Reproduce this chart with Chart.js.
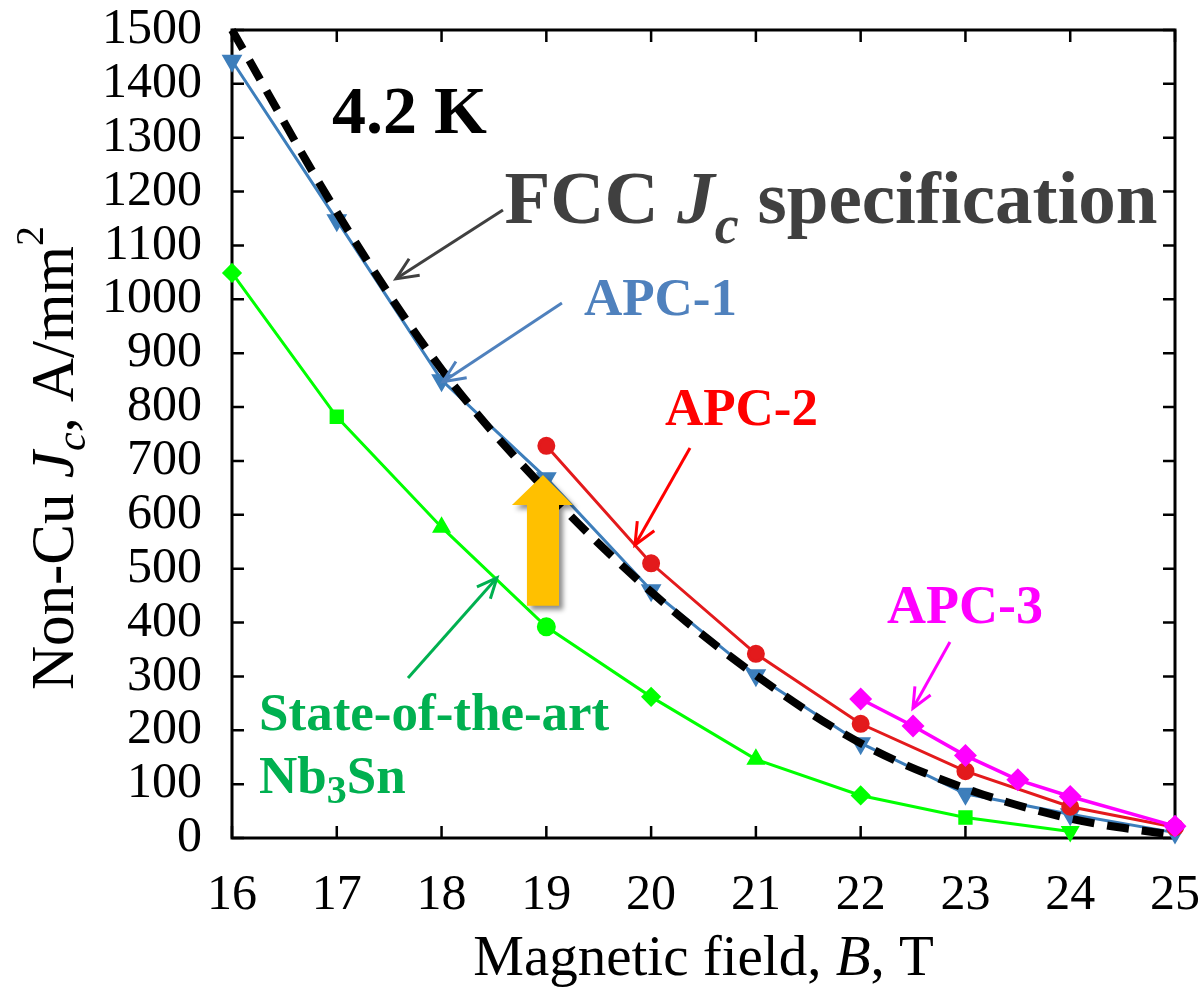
<!DOCTYPE html>
<html><head><meta charset="utf-8">
<script src="https://cdn.jsdelivr.net/npm/chart.js@4"></script>
<style>html,body{margin:0;padding:0;background:#fff}#wrap{width:1202px;height:987px}</style>
</head><body><div id="wrap"><canvas id="c" width="1202" height="987"></canvas></div>
<script>
// ---- data ----
const fieldB   = [16,17,18,19,20,21,22,23,24,25];
const fccSpec  = [1500,1162,870,645,457,302,176,92,36,5];
const apc1B    = [16,17,18,19,20,21,22,23,24,25];
const apc1Jc   = [1443,1147,850,668,460,302,176,82,44,10];
const apc2B    = [19,20,21,22,23,24,25];
const apc2Jc   = [728,510,342,212,124,58,20];
const apc3B    = [22,22.5,23,23.5,24,25];
const apc3Jc   = [258,208,153,108,77,22];
const sotaB    = [16,17,18,19,20,21,22,23,24];
const sotaJc   = [1049,782,577,392,262,146,79,38,12];
const sotaMarkers = ['rectRot','rect','triangle','circle','rectRot','triangle','rectRot','rect','triangle'];
const sotaRotation = [0,0,0,0,0,0,0,0,180];
const xTickValues = [16,17,18,19,20,21,22,23,24,25];
const yTickValues = [0,100,200,300,400,500,600,700,800,900,1000,1100,1200,1300,1400,1500];

const pts = (xs, ys) => xs.map((x, i) => ({x, y: ys[i]}));
const SERIF = "'Liberation Serif', 'Times New Roman', serif";
Chart.defaults.font.family = SERIF;

function drawRich(ctx, parts, x, y) {
  let cx = x;
  for (const p of parts) {
    ctx.font = p.font;
    ctx.fillText(p.t, cx, y + (p.dy || 0));
    cx += ctx.measureText(p.t).width;
  }
  return cx - x;
}
function richWidth(ctx, parts) {
  let w = 0;
  for (const p of parts) { ctx.font = p.font; w += ctx.measureText(p.t).width; }
  return w;
}
function arrow(ctx, x1, y1, x2, y2, color, lw, head) {
  ctx.save();
  ctx.strokeStyle = color; ctx.lineWidth = lw; ctx.lineCap = 'butt';
  ctx.beginPath(); ctx.moveTo(x1, y1); ctx.lineTo(x2, y2); ctx.stroke();
  const a = Math.atan2(y2 - y1, x2 - x1), h = head || 22, sp = 0.42;
  ctx.beginPath();
  ctx.moveTo(x2 - h * Math.cos(a - sp), y2 - h * Math.sin(a - sp));
  ctx.lineTo(x2, y2);
  ctx.lineTo(x2 - h * Math.cos(a + sp), y2 - h * Math.sin(a + sp));
  ctx.stroke();
  ctx.restore();
}

const framePlugin = {
  id: 'frame',
  beforeDatasetsDraw(chart) {
    const {ctx, chartArea: a, scales: {x, y}} = chart;
    ctx.save();
    ctx.strokeStyle = '#000'; ctx.lineWidth = 2.5;
    const L = 12;
    ctx.beginPath();
    for (const v of xTickValues) {
      const px = x.getPixelForValue(v);
      ctx.moveTo(px, a.bottom); ctx.lineTo(px, a.bottom - L);
      ctx.moveTo(px, a.top); ctx.lineTo(px, a.top + L);
    }
    for (const v of yTickValues) {
      const py = y.getPixelForValue(v);
      ctx.moveTo(a.left, py); ctx.lineTo(a.left + L, py);
      ctx.moveTo(a.right, py); ctx.lineTo(a.right - L, py);
    }
    ctx.stroke();
    ctx.lineWidth = 3;
    ctx.strokeRect(a.left, a.top, a.right - a.left, a.bottom - a.top);
    ctx.restore();
  },
  afterDatasetsDraw(chart) {
    const {ctx, chartArea: a, scales: {x, y}} = chart;
    const X = v => x.getPixelForValue(v), Y = v => y.getPixelForValue(v);
    ctx.save();
    ctx.textBaseline = 'alphabetic'; ctx.textAlign = 'left';

    // orange up arrow
    ctx.save();
    ctx.shadowColor = 'rgba(0,0,0,0.45)'; ctx.shadowBlur = 5; ctx.shadowOffsetX = 4; ctx.shadowOffsetY = 4;
    ctx.fillStyle = '#ffc000';
    ctx.beginPath();
    ctx.moveTo(X(18.968), Y(674));
    ctx.lineTo(X(19.254), Y(618));
    ctx.lineTo(X(19.121), Y(618));
    ctx.lineTo(X(19.121), Y(431));
    ctx.lineTo(X(18.815), Y(431));
    ctx.lineTo(X(18.815), Y(618));
    ctx.lineTo(X(18.672), Y(618));
    ctx.closePath(); ctx.fill();
    ctx.restore();

    // arrows
    arrow(ctx, X(18.586), Y(1166), X(17.565), Y(1038), '#404040', 3, 24);
    arrow(ctx, X(19.149), Y(993), X(18.014), Y(847), '#4f81bd', 3, 24);
    arrow(ctx, X(20.371), Y(724), X(19.846), Y(544), '#ff0000', 3, 24);
    arrow(ctx, X(22.852), Y(364), X(22.499), Y(241), '#ff00ff', 3, 22);
    arrow(ctx, X(17.680), Y(297), X(18.529), Y(483), '#00b050', 3, 22);

    // texts
    ctx.fillStyle = '#000';
    drawRich(ctx, [{t: '4.2 K', font: `bold 68px ${SERIF}`}], X(16.954), Y(1309));

    ctx.fillStyle = '#404040';
    drawRich(ctx, [
      {t: 'FCC ', font: `bold 75px ${SERIF}`},
      {t: 'J', font: `italic bold 75px ${SERIF}`},
      {t: 'c', font: `italic bold 54px ${SERIF}`, dy: 20},
      {t: ' specification', font: `bold 75px ${SERIF}`}
    ], X(18.6), Y(1142));

    ctx.fillStyle = '#4f81bd';
    drawRich(ctx, [{t: 'APC-1', font: `bold 53px ${SERIF}`}], X(19.359), Y(971));
    ctx.fillStyle = '#ff0000';
    drawRich(ctx, [{t: 'APC-2', font: `bold 53px ${SERIF}`}], X(20.132), Y(767));
    ctx.fillStyle = '#ff00ff';
    drawRich(ctx, [{t: 'APC-3', font: `bold 54px ${SERIF}`}], X(22.251), Y(399));
    ctx.fillStyle = '#00b050';
    drawRich(ctx, [{t: 'State-of-the-art', font: `bold 53px ${SERIF}`}], X(16.258), Y(200));
    drawRich(ctx, [
      {t: 'Nb', font: `bold 53px ${SERIF}`},
      {t: '3', font: `bold 40px ${SERIF}`, dy: 10},
      {t: 'Sn', font: `bold 53px ${SERIF}`}
    ], X(16.258), Y(84));

    // axis titles
    ctx.fillStyle = '#000';
    const xt = [
      {t: 'Magnetic field, ', font: `57px ${SERIF}`},
      {t: 'B', font: `italic 57px ${SERIF}`},
      {t: ', T', font: `57px ${SERIF}`}
    ];
    const xw = richWidth(ctx, xt);
    drawRich(ctx, xt, (a.left + a.right) / 2 - xw / 2, 975);

    const yt = [
      {t: 'Non-Cu ', font: `61px ${SERIF}`},
      {t: 'J', font: `italic 61px ${SERIF}`},
      {t: 'c', font: `italic 42px ${SERIF}`, dy: 12},
      {t: ', A/mm', font: `61px ${SERIF}`},
      {t: '2', font: `40px ${SERIF}`, dy: -30}
    ];
    ctx.save();
    ctx.translate(73, 690);
    ctx.rotate(-Math.PI / 2);
    drawRich(ctx, yt, 0, 0);
    ctx.restore();

    ctx.restore();
  }
};

function build() {
  new Chart(document.getElementById('c'), {
    type: 'scatter',
    data: {
      datasets: [
        {
          label: 'APC-3', data: pts(apc3B, apc3Jc), showLine: true,
          borderColor: '#ff00ff', backgroundColor: '#ff00ff', borderWidth: 3.5,
          pointStyle: 'rectRot', pointRadius: 9, order: 1, clip: false
        },
        {
          label: 'APC-2', data: pts(apc2B, apc2Jc), showLine: true,
          borderColor: '#e31a1c', backgroundColor: '#e31a1c', borderWidth: 3,
          pointStyle: 'circle', pointRadius: 7.5, order: 2, clip: false
        },
        {
          label: 'FCC Jc specification', data: pts(fieldB, fccSpec), showLine: true,
          borderColor: '#000', borderWidth: 8, borderDash: [22, 13], pointRadius: 0,
          cubicInterpolationMode: 'monotone', order: 3, clip: false
        },
        {
          label: 'APC-1', data: pts(apc1B, apc1Jc), showLine: true,
          borderColor: '#3d7ebb', backgroundColor: '#3d7ebb', borderWidth: 3,
          pointStyle: 'triangle', pointRotation: 180, pointRadius: 9, order: 4, clip: false
        },
        {
          label: 'State-of-the-art Nb3Sn', data: pts(sotaB, sotaJc), showLine: true,
          borderColor: '#00ff00', backgroundColor: '#00ff00', borderWidth: 3,
          pointStyle: sotaMarkers, pointRotation: sotaRotation, pointRadius: 8, order: 5, clip: false
        }
      ]
    },
    options: {
      responsive: false, animation: false, devicePixelRatio: 1,
      layout: {padding: {top: 30, right: 27, left: 0, bottom: 0}},
      plugins: {legend: {display: false}, tooltip: {enabled: false}},
      elements: {line: {tension: 0}, point: {borderWidth: 0}},
      scales: {
        x: {
          type: 'linear', min: 16, max: 25,
          grid: {display: false, drawTicks: false}, border: {display: false},
          afterBuildTicks: s => { s.ticks = xTickValues.map(v => ({value: v})); },
          afterFit: s => { s.height = 149; s.paddingLeft = 0; s.paddingRight = 0; },
          ticks: {padding: 28, color: '#000', font: {family: SERIF, size: 50}, maxRotation: 0, autoSkip: false,
                  callback: v => String(v)}
        },
        y: {
          type: 'linear', min: 0, max: 1500,
          grid: {display: false, drawTicks: false}, border: {display: false},
          afterBuildTicks: s => { s.ticks = yTickValues.map(v => ({value: v})); },
          afterFit: s => { s.width = 232; s.paddingTop = 0; s.paddingBottom = 0; },
          ticks: {padding: 30, color: '#000', font: {family: SERIF, size: 50}, autoSkip: false,
                  callback: v => String(v)}
        }
      }
    },
    plugins: [framePlugin]
  });
}
Promise.all([
  document.fonts.load("50px 'Liberation Serif'"),
  document.fonts.load("bold 50px 'Liberation Serif'"),
  document.fonts.load("italic 50px 'Liberation Serif'"),
  document.fonts.load("italic bold 50px 'Liberation Serif'")
]).then(build, build);
</script></body></html>
